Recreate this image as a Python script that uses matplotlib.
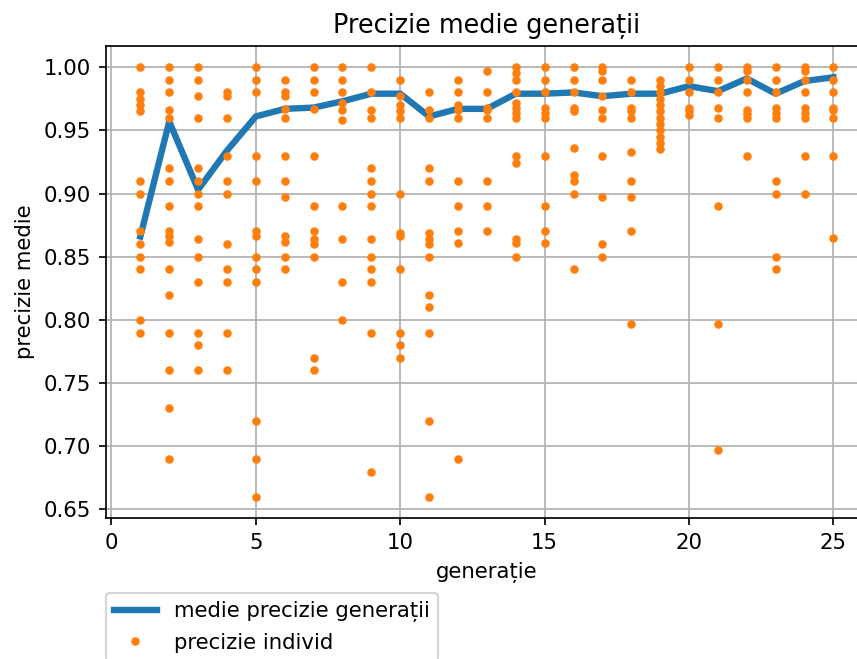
import matplotlib.pyplot as plt

gen = list(range(1, 26))

# media preciziei pe fiecare generatie
medie = [0.866, 0.957, 0.903, 0.934, 0.961, 0.967, 0.968, 0.973, 0.979, 0.979,
         0.961, 0.967, 0.967, 0.979, 0.979, 0.980, 0.977, 0.979, 0.979, 0.985,
         0.981, 0.991, 0.979, 0.989, 0.992]

# precizia fiecarui individ, pe generatii
indivizi = [
    [1.00, 0.98, 0.975, 0.97, 0.965, 0.91, 0.90, 0.87, 0.86, 0.85, 0.84, 0.80, 0.79],
    [1.00, 0.99, 0.98, 0.966, 0.96, 0.92, 0.91, 0.89, 0.87, 0.866, 0.862, 0.84,
     0.82, 0.79, 0.76, 0.73, 0.69],
    [1.00, 0.99, 0.977, 0.96, 0.92, 0.91, 0.90, 0.89, 0.864, 0.85, 0.83, 0.79,
     0.78, 0.76],
    [0.98, 0.977, 0.96, 0.93, 0.91, 0.90, 0.86, 0.84, 0.83, 0.79, 0.76],
    [1.00, 0.99, 0.98, 0.93, 0.91, 0.87, 0.866, 0.85, 0.84, 0.83, 0.72, 0.69, 0.66],
    [0.99, 0.98, 0.977, 0.967, 0.96, 0.93, 0.91, 0.897, 0.866, 0.862, 0.85, 0.84],
    [1.00, 0.99, 0.98, 0.967, 0.93, 0.89, 0.87, 0.864, 0.86, 0.85, 0.77, 0.76],
    [1.00, 0.99, 0.98, 0.972, 0.966, 0.958, 0.89, 0.864, 0.83, 0.80],
    [1.00, 0.98, 0.966, 0.96, 0.92, 0.91, 0.90, 0.89, 0.864, 0.85, 0.84, 0.83,
     0.79, 0.68],
    [0.99, 0.977, 0.97, 0.965, 0.96, 0.90, 0.869, 0.866, 0.84, 0.79, 0.78, 0.77],
    [0.98, 0.966, 0.96, 0.92, 0.91, 0.869, 0.864, 0.86, 0.85, 0.82, 0.81, 0.79,
     0.72, 0.66],
    [0.99, 0.98, 0.97, 0.966, 0.96, 0.91, 0.89, 0.87, 0.861, 0.69],
    [0.997, 0.98, 0.968, 0.966, 0.96, 0.91, 0.89, 0.87],
    [1.00, 0.995, 0.99, 0.98, 0.972, 0.968, 0.964, 0.96, 0.93, 0.924, 0.864,
     0.861, 0.85],
    [1.00, 0.99, 0.98, 0.968, 0.964, 0.96, 0.93, 0.89, 0.87, 0.861],
    [1.00, 0.99, 0.98, 0.968, 0.965, 0.936, 0.915, 0.91, 0.90, 0.84],
    [1.00, 0.997, 0.99, 0.977, 0.966, 0.96, 0.93, 0.897, 0.86, 0.85],
    [0.99, 0.98, 0.968, 0.965, 0.96, 0.933, 0.91, 0.897, 0.87, 0.797],
    [0.99, 0.985, 0.98, 0.975, 0.97, 0.965, 0.96, 0.955, 0.95, 0.945, 0.94, 0.935],
    [1.00, 0.99, 0.98, 0.968, 0.965, 0.962],
    [1.00, 0.99, 0.98, 0.968, 0.96, 0.89, 0.797, 0.697],
    [1.00, 0.997, 0.99, 0.98, 0.966, 0.963, 0.96, 0.93],
    [1.00, 0.99, 0.98, 0.968, 0.964, 0.96, 0.91, 0.90, 0.85, 0.84],
    [1.00, 0.997, 0.99, 0.98, 0.968, 0.964, 0.96, 0.93, 0.90],
    [1.00, 0.99, 0.98, 0.968, 0.966, 0.96, 0.93, 0.865],
]

xs = []
ys = []
for g, vals in zip(gen, indivizi):
    xs += [g] * len(vals)
    ys += vals

fig = plt.figure(figsize=(858 / 153, 659 / 153), dpi=153)
ax = fig.add_axes([0.1232, 0.2135, 0.8885, 0.7172])

ax.plot(gen, medie, lw=3, label='medie precizie generații')
ax.plot(xs, ys, '.', label='precizie individ')

ax.set_title('Precizie medie generații')
ax.set_xlabel('generație')
ax.set_ylabel('precizie medie')
ax.grid(True)
ax.legend(loc='upper left', bbox_to_anchor=(0, -0.157), borderaxespad=0)

fig.savefig('out.png', dpi=153)
